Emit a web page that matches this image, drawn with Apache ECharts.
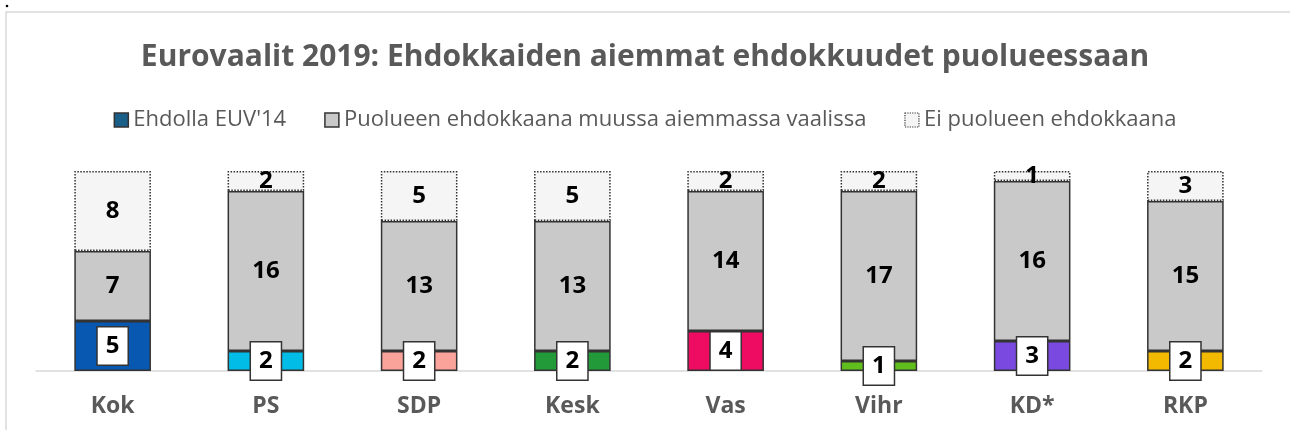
<!DOCTYPE html>
<html>
<head>
    <meta charset="utf-8">
    <title>Eurovaalit 2019</title>
    <script src="https://cdn.jsdelivr.net/npm/echarts@6/dist/echarts.min.js"></script>
</head>
<body style="margin:0;">
    <div id="chart" style="width: 1290px; height:430px;"></div>

    <script type="text/javascript">
        var puolueet = ['Kok', 'PS', 'SDP', 'Kesk', 'Vas', 'Vihr', 'KD*', 'RKP'];
        var ehdollaEuv14 = [5, 2, 2, 2, 4, 1, 3, 2];
        var muussaVaalissa = [7, 16, 13, 13, 14, 17, 16, 15];
        var eiPuolueen = [8, 2, 5, 5, 2, 2, 1, 3];
        var puolueVarit = ['#0857b0', '#00bce6', '#f9a39b', '#229a3a', '#ee0b62', '#60be1d', '#7a4ae0', '#f2b900'];
        var sarjat = ['Ehdolla EUV\'14', 'Puolueen ehdokkaana muussa aiemmassa vaalissa', 'Ei puolueen ehdokkaana'];

        var fontti = '"Open Sans", "Noto Sans", sans-serif';
        var chart = echarts.init(document.getElementById('chart'));

        chart.setOption({
            backgroundColor: '#fff',
            textStyle: { fontFamily: fontti },
            title: {
                text: 'Eurovaalit 2019: Ehdokkaiden aiemmat ehdokkuudet puolueessaan',
                left: 'center',
                top: 37,
                textStyle: { fontSize: 30, fontWeight: 'bold', color: '#595959', fontFamily: fontti }
            },
            legend: {
                top: 104,
                left: 'center',
                itemWidth: 14,
                itemHeight: 14,
                itemGap: 38,
                icon: 'rect',
                textStyle: { fontSize: 22, color: '#595959', fontFamily: fontti },
                data: [
                    { name: sarjat[0], itemStyle: { color: '#1a5f88', borderColor: '#333', borderWidth: 1.5 } },
                    { name: sarjat[1], itemStyle: { color: '#c9c9c9', borderColor: '#333', borderWidth: 1.5 } },
                    { name: sarjat[2], itemStyle: { color: '#f5f5f5', borderColor: '#333', borderWidth: 1.2, borderType: 'dotted' } }
                ]
            },
            graphic: [
                {
                    type: 'rect',
                    shape: { x: 6, y: 12, width: 1300, height: 440 },
                    style: { fill: 'none', stroke: '#d9d9d9', lineWidth: 1.5 },
                    silent: true
                },
                {
                    type: 'circle',
                    shape: { cx: 7, cy: 6, r: 1.3 },
                    style: { fill: '#000' },
                    silent: true
                }
            ],
            grid: { left: 36, right: 28, top: 171, bottom: 59 },
            xAxis: {
                type: 'category',
                data: puolueet,
                axisTick: { show: false },
                axisLine: { lineStyle: { color: '#d9d9d9', width: 1.5 } },
                axisLabel: { fontSize: 23, fontWeight: 'bold', color: '#595959', margin: 24, fontFamily: fontti }
            },
            yAxis: {
                type: 'value',
                min: 0,
                max: 20,
                show: false,
                splitLine: { show: false }
            },
            series: [
                {
                    name: sarjat[0],
                    type: 'bar',
                    stack: 'yht',
                    barWidth: '50%',
                    z: 4,
                    data: ehdollaEuv14.map(function (v, i) {
                        return { value: v, itemStyle: { color: puolueVarit[i] } };
                    }),
                    itemStyle: { borderColor: '#333', borderWidth: 1.5 },
                    label: {
                        show: true,
                        position: 'inside',
                        fontSize: 24,
                        fontWeight: 'bold',
                        color: '#000',
                        backgroundColor: '#fff',
                        borderColor: '#333',
                        borderWidth: 1.5,
                        padding: [8, 8, 5, 8],
                        fontFamily: fontti
                    }
                },
                {
                    name: sarjat[1],
                    type: 'bar',
                    stack: 'yht',
                    data: muussaVaalissa,
                    itemStyle: { color: '#c9c9c9', borderColor: '#333', borderWidth: 1.5 },
                    label: { show: true, position: 'inside', fontSize: 24, fontWeight: 'bold', color: '#000', fontFamily: fontti }
                },
                {
                    name: sarjat[2],
                    type: 'bar',
                    stack: 'yht',
                    data: eiPuolueen,
                    itemStyle: { color: '#f5f5f5', borderColor: '#333', borderWidth: 1.5, borderType: 'dotted' },
                    label: { show: true, position: 'inside', fontSize: 24, fontWeight: 'bold', color: '#000', fontFamily: fontti }
                }
            ]
        });
    </script>
</body>
</html>
